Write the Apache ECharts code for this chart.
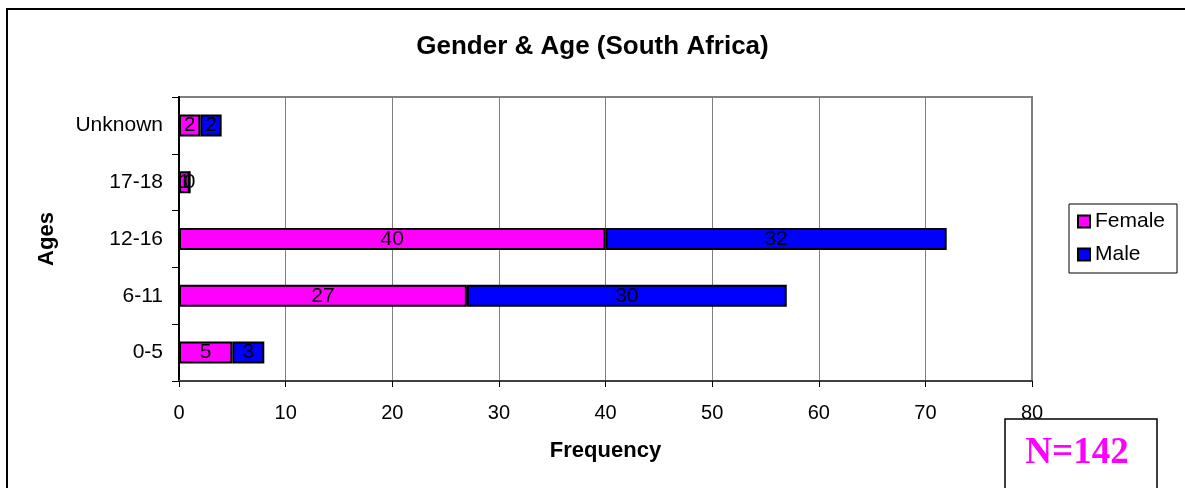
<!DOCTYPE html>
<html>
<head>
<meta charset="utf-8">
<script src="https://cdn.jsdelivr.net/npm/echarts@6/dist/echarts.min.js"></script>
<style>
html,body{margin:0;padding:0;background:#fff;}
#c{width:1185px;height:488px;}
</style>
</head>
<body>
<div id="c"></div>
<script>
const categories = ['0-5', '6-11', '12-16', '17-18', 'Unknown'];
const female = [5, 27, 40, 1, 2];
const male = [3, 30, 32, 0, 2];
const xTicks = [0, 10, 20, 30, 40, 50, 60, 70, 80];

const FONT = 'Liberation Sans, Arial, sans-serif';
const chart = echarts.init(document.getElementById('c'));
const labelStyle = {
  show: true, position: 'inside', color: '#000',
  fontFamily: FONT, fontSize: 21
};
chart.setOption({
  animation: false,
  backgroundColor: '#fff',
  title: {
    text: 'Gender & Age (South Africa)',
    left: 'center', top: 29,
    textStyle: {fontFamily: FONT, fontSize: 26, fontWeight: 'bold', color: '#000'}
  },
  legend: {
    orient: 'vertical',
    left: 1069, top: 204,
    padding: [7, 12, 8, 8],
    itemGap: 12,
    itemWidth: 12, itemHeight: 12,
    icon: 'rect',
    borderColor: '#000', borderWidth: 1,
    textStyle: {fontFamily: FONT, fontSize: 21, color: '#000'},
    itemStyle: {borderColor: '#000', borderWidth: 2},
    data: ['Female', 'Male']
  },
  grid: {left: 179, right: 153, top: 97, bottom: 107, show: true, borderColor: '#808080', borderWidth: 2},
  xAxis: {
    type: 'value', min: xTicks[0], max: xTicks[xTicks.length - 1], interval: 10,
    name: 'Frequency', nameLocation: 'middle', nameGap: 59,
    nameTextStyle: {fontFamily: FONT, fontSize: 22, fontWeight: 'bold', color: '#000'},
    axisLine: {show: true, lineStyle: {color: '#404040', width: 2}},
    axisTick: {show: true, length: 6, lineStyle: {color: '#000'}},
    axisLabel: {fontFamily: FONT, fontSize: 20, color: '#000', margin: 22},
    splitLine: {show: true, lineStyle: {color: '#808080', width: 1}}
  },
  yAxis: {
    type: 'category', data: categories,
    name: 'Ages', nameLocation: 'middle', nameGap: 121, nameRotate: 90,
    nameTextStyle: {fontFamily: FONT, fontSize: 22, fontWeight: 'bold', color: '#000'},
    axisLine: {show: true, lineStyle: {color: '#000', width: 2}},
    axisTick: {show: true, length: 7, lineStyle: {color: '#000'}},
    axisLabel: {fontFamily: FONT, fontSize: 21, color: '#000', margin: 16},
    splitLine: {show: false}
  },
  series: [
    {
      name: 'Female', type: 'bar', stack: 'g', data: female, barWidth: 22,
      itemStyle: {color: '#FF00FF', borderColor: '#000', borderWidth: 2},
      label: labelStyle
    },
    {
      name: 'Male', type: 'bar', stack: 'g', data: male, barWidth: 22,
      itemStyle: {color: '#0000FF', borderColor: '#000', borderWidth: 2},
      label: labelStyle
    }
  ],
  graphic: [
    {type: 'rect', shape: {x: 7, y: 9, width: 1200, height: 500}, style: {fill: 'none', stroke: '#000', lineWidth: 2}, z: 100},
    {type: 'rect', shape: {x: 1005, y: 419, width: 152, height: 90}, style: {fill: '#fff', stroke: '#000', lineWidth: 1.5}, z: 100},
    {type: 'text', x: 1077, y: 453, style: {text: 'N=142', fill: '#FF00FF', align: 'center', verticalAlign: 'middle', font: 'bold 37px "Liberation Serif", "Times New Roman", serif'}, z: 101}
  ]
});
</script>
</body>
</html>
